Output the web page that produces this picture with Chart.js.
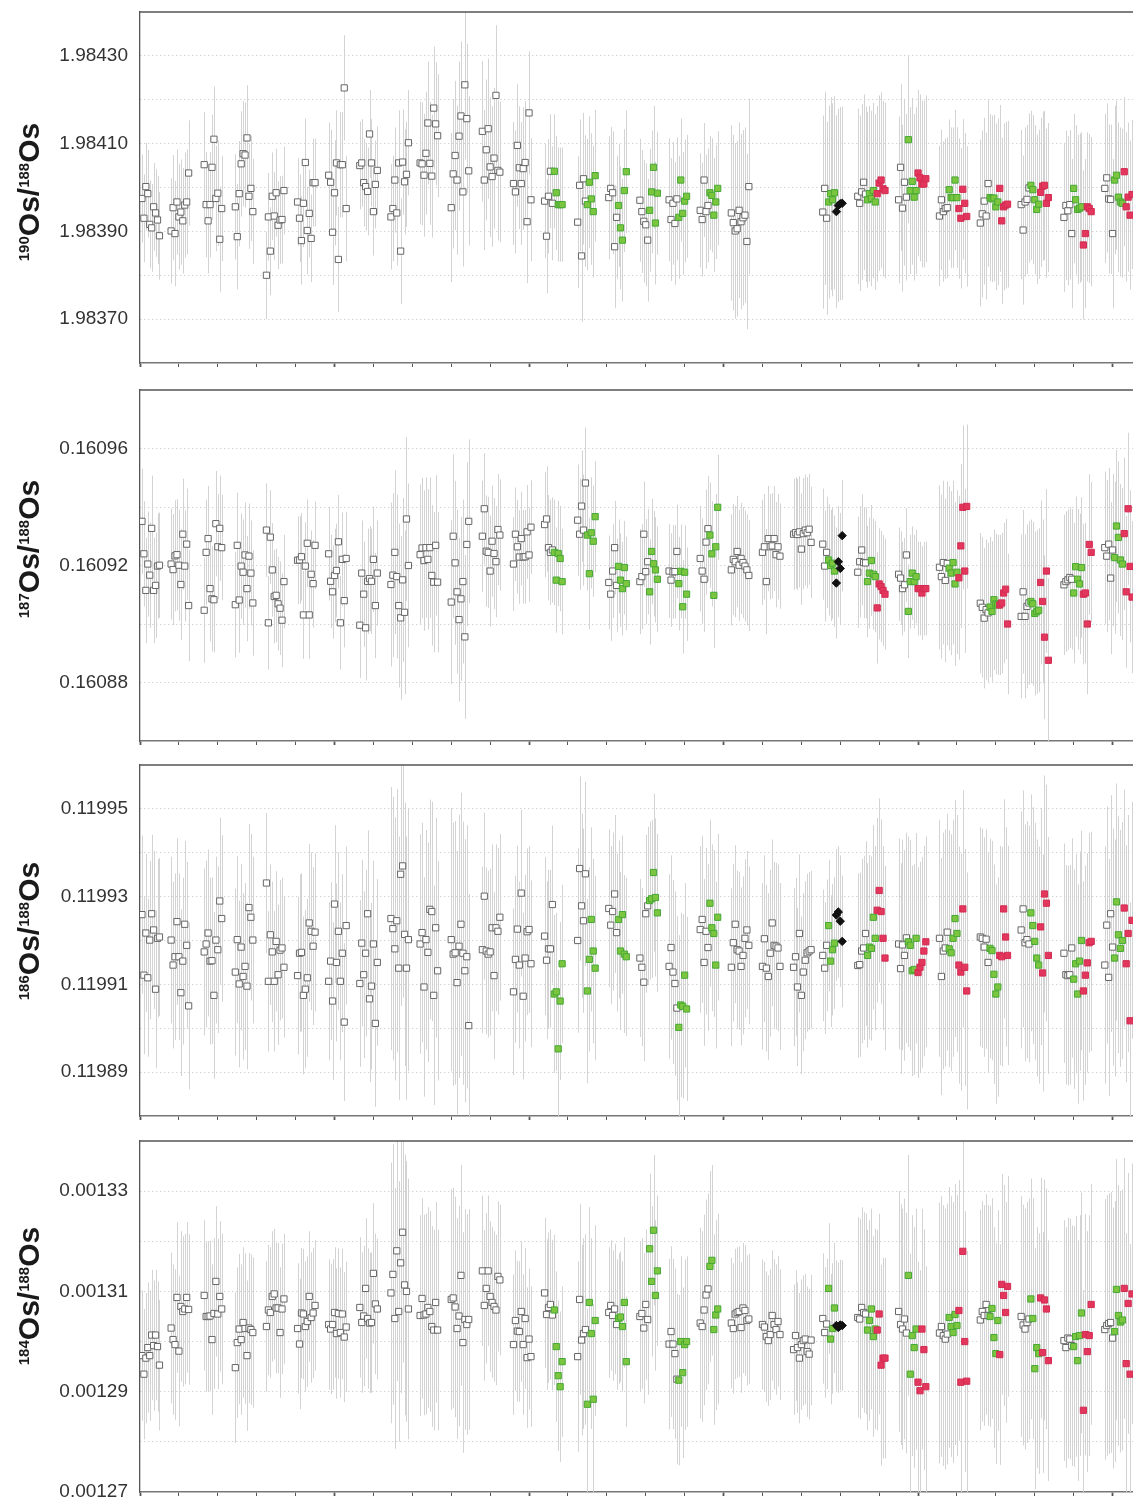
<!DOCTYPE html>
<html>
<head>
<meta charset="utf-8">
<script src="https://cdn.jsdelivr.net/npm/chart.js@4.4.0/dist/chart.umd.min.js"></script>
<style>
  body { margin: 0; background: #fff; font-family: "Liberation Sans", Arial, sans-serif; }
  #page { position: relative; width: 1133px; height: 1498px; overflow: hidden; }
  .panel { position: absolute; left: 0; width: 1133px; height: 376px; }
  .ytitle { position: absolute; left: 29px; font-weight: bold; font-size: 30px; line-height: 34px;
            color: #1a1a1a; white-space: nowrap; transform: translate(-50%, -50%) rotate(-90deg); }
  .ytitle sup { font-size: 15px; vertical-align: 10px; line-height: 0; }
</style>
</head>
<body>
<div id="page">
  <canvas id="c190" class="panel" width="1133" height="376" style="top:0px"></canvas>
  <canvas id="c187" class="panel" width="1133" height="376" style="top:378px"></canvas>
  <canvas id="c186" class="panel" width="1133" height="376" style="top:753px"></canvas>
  <canvas id="c184" class="panel" width="1133" height="376" style="top:1129px"></canvas>
  <div class="ytitle" style="top:192px"><sup>190</sup>Os/<sup>188</sup>Os</div>
  <div class="ytitle" style="top:549px"><sup>187</sup>Os/<sup>188</sup>Os</div>
  <div class="ytitle" style="top:931px"><sup>186</sup>Os/<sup>188</sup>Os</div>
  <div class="ytitle" style="top:1296px"><sup>184</sup>Os/<sup>188</sup>Os</div>
</div>
<script>
// run number of the first analysis of each session; analyses follow one per run
const sessionStart = [1,16,33,49,65,81,97,113,129,144,160,176,192,208,225,241,257,272,288,304,320,336,351,369,390,411,432,453,475,496];
// w = standard (open), g = green, r = red, b = black diamond
const sessionKinds = [
  "wwwwwwwwww","wwwwwwwwww","wwwwwwwwww","wwwwwwwwww","wwwwwwwwww","wwwwwwwwww","wwwwwwwwww",
  "wwwwwwwwww","wwwwwwwwww","wwwwwwwwww","wwwwwwwwww","wwwwwwwwww","wwwwwwwwww",
  "wwwwwggggg","wwwwwggggg","wwwwwggggg","wwwwwggggg","wwwwwggggg","wwwwwggggg",
  "wwwwwwwwww","wwwwwwwwww","wwwwwwwwww",
  "wwwggggbbbb",
  "wwwwwgggggrrrrr","wwwwwgggggrrrrr","wwwwwgggggrrrrr","wwwwwgggggrrrrr",
  "wwwwwgggggrrrrr","wwwwwgggggrrrrr","wwwwwgggggrrrrr"
];
const runTicks = [0,20,40,60,80,100,120,140,160,180,200,220,240,260,280,300,320,340,360,380,400,420,440,460,480,500];

const os190 = [
  [1.983975,1.983930,1.984002,1.983986,1.983916,1.983908,1.983956,1.983942,1.983926,1.983890],
  [1.983901,1.983954,1.983895,1.983967,1.983933,1.983944,1.983924,1.983960,1.983967,1.984033],
  [1.984052,1.983961,1.983924,1.983961,1.984046,1.984110,1.983975,1.983987,1.983882,1.983952],
  [1.983956,1.983888,1.983986,1.984054,1.984077,1.984074,1.984113,1.983980,1.983998,1.983945],
  [1.983800,1.983933,1.983855,1.983980,1.983935,1.983988,1.983914,1.983926,1.983927,1.983993],
  [1.983967,1.983930,1.983879,1.983964,1.984057,1.983902,1.983941,1.983884,1.984011,1.984011],
  [1.984028,1.984012,1.983898,1.983988,1.984056,1.983836,1.984052,1.984052,1.984227,1.983952],
  [1.984050,1.984056,1.984011,1.984002,1.983991,1.984122,1.984056,1.983945,1.984007,1.984039],
  [1.983933,1.983952,1.984017,1.983942,1.984056,1.983855,1.984058,1.984013,1.984030,1.984102],
  [1.984056,1.984054,1.984028,1.984078,1.984147,1.984055,1.984026,1.984181,1.984145,1.984118],
  [1.983954,1.984031,1.984073,1.984017,1.984117,1.984163,1.983990,1.984234,1.984157,1.984038],
  [1.984128,1.984017,1.984086,1.984134,1.984047,1.984025,1.984067,1.984210,1.984039,1.984035],
  [1.984009,1.983990,1.984096,1.984045,1.984009,1.984043,1.984057,1.983922,1.984170,1.983972],
  [1.983969,1.983889,1.983980,1.984037,1.983964,1.984037,1.983988,1.983961,1.983961,1.983961],
  [1.983921,1.984005,1.983844,1.984020,1.983969,1.983961,1.984012,1.983974,1.983945,1.984027],
  [1.983977,1.983998,1.983988,1.983865,1.983932,1.983959,1.983908,1.983880,1.983993,1.984036],
  [1.983971,1.983945,1.983923,1.983915,1.983880,1.983948,1.983990,1.984046,1.983919,1.983987],
  [1.983972,1.983927,1.983964,1.983918,1.983974,1.983932,1.984017,1.983941,1.983969,1.983980],
  [1.983948,1.983927,1.984017,1.983945,1.983959,1.983988,1.983982,1.983937,1.983967,1.983998],
  [1.983942,1.983920,1.983901,1.983906,1.983948,1.983922,1.983931,1.983937,1.983877,1.984002],
  null,
  null,
  [1.983944,1.983998,1.983930,1.983967,1.983986,1.983972,1.983988,1.983945,1.983959,1.983963,1.983964],
  [1.983980,1.983964,1.983990,1.984012,1.983985,1.983972,1.983986,1.983975,1.983993,1.983967,1.983986,1.984010,1.984017,1.983997,1.983993],
  [1.983972,1.984046,1.983953,1.984012,1.983978,1.984109,1.983993,1.984014,1.983978,1.983993,1.984033,1.984022,1.984008,1.984008,1.984020],
  [1.983935,1.983972,1.983945,1.983952,1.983954,1.983995,1.983977,1.983977,1.984017,1.983977,1.983952,1.983930,1.983996,1.983964,1.983934],
  [1.983919,1.983940,1.983969,1.983935,1.984009,1.983977,1.983974,1.983976,1.983956,1.983967,1.983998,1.983924,1.983956,1.983960,1.983962],
  [1.983961,1.983903,1.983967,1.983973,1.983999,1.984005,1.983995,1.983972,1.983950,1.983962,1.983989,1.984003,1.984005,1.983964,1.983977],
  [1.983932,1.983959,1.983947,1.983961,1.983895,1.983998,1.983972,1.983950,1.983953,1.983956,1.983869,1.983895,1.983956,1.983952,1.983945],
  [1.983998,1.984022,1.983974,1.983973,1.983895,1.984017,1.984028,1.983978,1.983967,1.983964,1.984036,1.983956,1.983978,1.983937,1.983984]
];
const err190 = [10e-5,12e-5,12e-5,12e-5,10e-5,10e-5,12e-5,10e-5,12e-5,14e-5,17e-5,16e-5,14e-5,13e-5,15e-5,14e-5,14e-5,14e-5,13e-5,20e-5,
  null,null,22e-5,20e-5,19e-5,16e-5,19e-5,17e-5,17e-5,17e-5];

const os187 = [
  [0.1609351,0.1609240,0.1609115,0.1609205,0.1609167,0.1609327,0.1609115,0.1609132,0.1609198,0.1609201],
  [0.1609205,0.1609186,0.1609233,0.1609237,0.1609201,0.1609135,0.1609307,0.1609198,0.1609273,0.1609063],
  [0.1609047,0.1609245,0.1609292,0.1609121,0.1609086,0.1609083,0.1609343,0.1609264,0.1609327,0.1609261],
  [0.1609066,0.1609269,0.1609082,0.1609198,0.1609177,0.1609236,0.1609121,0.1609232,0.1609174,0.1609072],
  [0.1609321,0.1609004,0.1609297,0.1609185,0.1609094,0.1609098,0.1609069,0.1609054,0.1609013,0.1609145],
  [0.1609218,0.1609219,0.1609230,0.1609031,0.1609198,0.1609276,0.1609031,0.1609170,0.1609138,0.1609269],
  [0.1609240,0.1609146,0.1609110,0.1609166,0.1609183,0.1609281,0.1609004,0.1609221,0.1609080,0.1609224],
  [0.1608996,0.1609174,0.1609102,0.1608987,0.1609146,0.1609155,0.1609146,0.1609221,0.1609063,0.1609174],
  [0.1609135,0.1609167,0.1609245,0.1609162,0.1609063,0.1609021,0.1609151,0.1609040,0.1609359,0.1609200],
  [0.1609237,0.1609260,0.1609217,0.1609261,0.1609221,0.1609261,0.1609166,0.1609143,0.1609269,0.1609143],
  [0.1609075,0.1609300,0.1609209,0.1609110,0.1609015,0.1609086,0.1609145,0.1608956,0.1609272,0.1609351],
  [0.1609300,0.1609394,0.1609249,0.1609245,0.1609181,0.1609283,0.1609241,0.1609213,0.1609323,0.1609304],
  [0.1609205,0.1609307,0.1609264,0.1609229,0.1609292,0.1609229,0.1609230,0.1609315,0.1609236,0.1609331],
  [0.1609340,0.1609359,0.1609261,0.1609245,0.1609253,0.1609245,0.1609150,0.1609241,0.1609224,0.1609145],
  [0.1609355,0.1609307,0.1609403,0.1609321,0.1609482,0.1609304,0.1609172,0.1609312,0.1609283,0.1609367],
  [0.1609142,0.1609102,0.1609181,0.1609261,0.1609132,0.1609197,0.1609150,0.1609121,0.1609193,0.1609138],
  [0.1609145,0.1609162,0.1609307,0.1609179,0.1609213,0.1609110,0.1609248,0.1609206,0.1609185,0.1609153],
  [0.1609181,0.1609150,0.1609178,0.1609179,0.1609248,0.1609138,0.1609180,0.1609059,0.1609177,0.1609102],
  [0.1609224,0.1609181,0.1609153,0.1609280,0.1609326,0.1609304,0.1609240,0.1609098,0.1609264,0.1609399],
  [0.1609185,0.1609221,0.1609213,0.1609248,0.1609201,0.1609224,0.1609210,0.1609198,0.1609185,0.1609166],
  [0.1609245,0.1609264,0.1609145,0.1609292,0.1609264,0.1609267,0.1609292,0.1609237,0.1609264,0.1609232],
  [0.1609307,0.1609312,0.1609306,0.1609315,0.1609256,0.1609309,0.1609321,0.1609312,0.1609324,0.1609279],
  [0.1609273,0.1609198,0.1609245,0.1609219,0.1609200,0.1609208,0.1609181,0.1609140,0.1609213,0.1609190,0.1609302],
  [0.1609177,0.1609213,0.1609253,0.1609210,0.1609209,0.1609145,0.1609174,0.1609217,0.1609170,0.1609162,0.1609055,0.1609137,0.1609128,0.1609115,0.1609102],
  [0.1609170,0.1609157,0.1609121,0.1609134,0.1609236,0.1609043,0.1609145,0.1609174,0.1609145,0.1609162,0.1609121,0.1609121,0.1609106,0.1609121,0.1609121],
  [0.1609194,0.1609162,0.1609210,0.1609149,0.1609207,0.1609191,0.1609174,0.1609210,0.1609137,0.1609177,0.1609158,0.1609267,0.1609399,0.1609181,0.1609402],
  [0.1609071,0.1609057,0.1609020,0.1609049,0.1609038,0.1609058,0.1609043,0.1609083,0.1609069,0.1609065,0.1609065,0.1609072,0.1609106,0.1609119,0.1609000],
  [0.1609026,0.1609110,0.1609026,0.1609060,0.1609072,0.1609077,0.1609069,0.1609036,0.1609042,0.1609047,0.1609142,0.1609077,0.1608955,0.1609181,0.1608876],
  [0.1609134,0.1609145,0.1609151,0.1609159,0.1609153,0.1609106,0.1609196,0.1609153,0.1609137,0.1609193,0.1609102,0.1609106,0.1609000,0.1609272,0.1609245],
  [0.1609261,0.1609232,0.1609273,0.1609157,0.1609253,0.1609227,0.1609335,0.1609296,0.1609219,0.1609205,0.1609309,0.1609110,0.1609394,0.1609197,0.1609092]
];
const err187 = [18e-6,19e-6,18e-6,18e-6,16e-6,15e-6,16e-6,18e-6,28e-6,24e-6,28e-6,19e-6,16e-6,18e-6,19e-6,16e-6,18e-6,16e-6,18e-6,19e-6,
  18e-6,19e-6,19e-6,19e-6,16e-6,28e-6,24e-6,28e-6,24e-6,26e-6];

const os186 = [
  [0.1199259,0.1199121,0.1199217,0.1199115,0.1199201,0.1199261,0.1199224,0.1199089,0.1199205,0.1199208],
  [0.1199201,0.1199144,0.1199163,0.1199243,0.1199163,0.1199081,0.1199153,0.1199237,0.1199189,0.1199051],
  [0.1199174,0.1199192,0.1199217,0.1199153,0.1199154,0.1199075,0.1199201,0.1199179,0.1199290,0.1199250],
  [0.1199128,0.1199202,0.1199101,0.1199185,0.1199118,0.1199141,0.1199096,0.1199275,0.1199253,0.1199201],
  [0.1199331,0.1199107,0.1199213,0.1199174,0.1199107,0.1199198,0.1199122,0.1199178,0.1199183,0.1199139],
  [0.1199120,0.1199171,0.1199173,0.1199075,0.1199089,0.1199115,0.1199240,0.1199221,0.1199187,0.1199219],
  [0.1199107,0.1199153,0.1199062,0.1199283,0.1199150,0.1199221,0.1199107,0.1199171,0.1199014,0.1199234],
  [0.1199102,0.1199194,0.1199122,0.1199171,0.1199261,0.1199067,0.1199096,0.1199192,0.1199011,0.1199150],
  [0.1199250,0.1199227,0.1199181,0.1199245,0.1199137,0.1199351,0.1199370,0.1199214,0.1199137,0.1199202],
  [0.1199192,0.1199218,0.1199094,0.1199202,0.1199173,0.1199271,0.1199266,0.1199075,0.1199229,0.1199131],
  [0.1199202,0.1199169,0.1199172,0.1199104,0.1199187,0.1199237,0.1199171,0.1199131,0.1199163,0.1199006],
  [0.1199179,0.1199301,0.1199176,0.1199169,0.1199174,0.1199229,0.1199120,0.1199229,0.1199221,0.1199253],
  [0.1199083,0.1199157,0.1199226,0.1199144,0.1199308,0.1199073,0.1199160,0.1199220,0.1199225,0.1199147],
  [0.1199210,0.1199155,0.1199181,0.1199181,0.1199282,0.1199078,0.1199083,0.1198953,0.1199062,0.1199147],
  [0.1199200,0.1199364,0.1199279,0.1199245,0.1199352,0.1199085,0.1199157,0.1199248,0.1199176,0.1199137],
  [0.1199273,0.1199235,0.1199266,0.1199306,0.1199218,0.1199248,0.1199176,0.1199259,0.1199169,0.1199163],
  [0.1199160,0.1199139,0.1199105,0.1199261,0.1199279,0.1199291,0.1199295,0.1199355,0.1199298,0.1199263],
  [0.1199141,0.1199184,0.1199128,0.1199102,0.1199046,0.1199002,0.1199053,0.1199050,0.1199121,0.1199044],
  [0.1199225,0.1199248,0.1199150,0.1199221,0.1199184,0.1199285,0.1199229,0.1199216,0.1199144,0.1199253],
  [0.1199139,0.1199195,0.1199237,0.1199179,0.1199176,0.1199141,0.1199166,0.1199205,0.1199224,0.1199189],
  [0.1199141,0.1199204,0.1199137,0.1199118,0.1199171,0.1199240,0.1199189,0.1199187,0.1199183,0.1199141],
  [0.1199139,0.1199163,0.1199094,0.1199216,0.1199075,0.1199128,0.1199155,0.1199172,0.1199176,0.1199179],
  [0.1199166,0.1199137,0.1199189,0.1199234,0.1199153,0.1199179,0.1199194,0.1199258,0.1199265,0.1199244,0.1199198],
  [0.1199143,0.1199145,0.1199176,0.1199183,0.1199216,0.1199166,0.1199185,0.1199182,0.1199253,0.1199205,0.1199269,0.1199314,0.1199266,0.1199205,0.1199160],
  [0.1199192,0.1199136,0.1199190,0.1199166,0.1199206,0.1199197,0.1199189,0.1199131,0.1199134,0.1199205,0.1199127,0.1199139,0.1199150,0.1199176,0.1199197],
  [0.1199205,0.1199118,0.1199176,0.1199183,0.1199219,0.1199181,0.1199172,0.1199205,0.1199250,0.1199216,0.1199144,0.1199128,0.1199272,0.1199139,0.1199085],
  [0.1199208,0.1199205,0.1199185,0.1199203,0.1199150,0.1199182,0.1199177,0.1199123,0.1199078,0.1199094,0.1199166,0.1199163,0.1199272,0.1199208,0.1199166],
  [0.1199224,0.1199272,0.1199195,0.1199202,0.1199192,0.1199263,0.1199234,0.1199198,0.1199160,0.1199144,0.1199231,0.1199126,0.1199306,0.1199285,0.1199166],
  [0.1199171,0.1199122,0.1199120,0.1199122,0.1199183,0.1199112,0.1199147,0.1199078,0.1199153,0.1199200,0.1199085,0.1199121,0.1199149,0.1199195,0.1199198],
  [0.1199144,0.1199235,0.1199116,0.1199261,0.1199185,0.1199160,0.1199288,0.1199213,0.1199182,0.1199200,0.1199274,0.1199147,0.1199216,0.1199017,0.1199246]
];
const err186 = [18e-6,19e-6,19e-6,19e-6,16e-6,18e-6,18e-6,19e-6,30e-6,25e-6,30e-6,19e-6,19e-6,18e-6,21e-6,18e-6,18e-6,21e-6,19e-6,18e-6,
  19e-6,18e-6,15e-6,21e-6,24e-6,27e-6,25e-6,27e-6,25e-6,27e-6];

const os184 = [
  [0.0012972,0.0012935,0.0012967,0.0012988,0.0012972,0.0013013,0.0012992,0.0013013,0.0012990,0.0012953],
  [0.0013027,0.0013004,0.0012994,0.0013088,0.0012981,0.0013070,0.0013060,0.0013065,0.0013088,0.0013064],
  [0.0013092,0.0013050,0.0013050,0.0013051,0.0013004,0.0013056,0.0013120,0.0013055,0.0013090,0.0013065],
  [0.0012948,0.0012998,0.0013025,0.0013004,0.0013038,0.0013026,0.0012972,0.0013027,0.0013024,0.0013018],
  [0.0013030,0.0013063,0.0013058,0.0013090,0.0013095,0.0013067,0.0013067,0.0013018,0.0013065,0.0013085],
  [0.0013026,0.0012995,0.0013057,0.0013055,0.0013030,0.0013040,0.0013090,0.0013048,0.0013057,0.0013072],
  [0.0013034,0.0013025,0.0013034,0.0013058,0.0013016,0.0013056,0.0013018,0.0013055,0.0013009,0.0013029],
  [0.0013068,0.0013038,0.0013051,0.0013106,0.0013046,0.0013037,0.0013038,0.0013136,0.0013075,0.0013065],
  [0.0013097,0.0013134,0.0013046,0.0013181,0.0013060,0.0013157,0.0013218,0.0013113,0.0013100,0.0013065],
  [0.0013052,0.0013086,0.0013053,0.0013055,0.0013068,0.0013060,0.0013030,0.0013023,0.0013078,0.0013023],
  [0.0013084,0.0013087,0.0013069,0.0013026,0.0013051,0.0013132,0.0012998,0.0013044,0.0013034,0.0013044],
  [0.0013141,0.0013072,0.0013106,0.0013141,0.0013090,0.0013078,0.0013070,0.0013063,0.0013130,0.0013123],
  [0.0012994,0.0013042,0.0013021,0.0013020,0.0013060,0.0012994,0.0013046,0.0012968,0.0013005,0.0012970],
  [0.0013097,0.0013054,0.0013068,0.0013074,0.0013053,0.0013063,0.0012990,0.0012932,0.0012910,0.0012960],
  [0.0012970,0.0013084,0.0013003,0.0013016,0.0013024,0.0012875,0.0013078,0.0013016,0.0012885,0.0013042],
  [0.0013058,0.0013072,0.0013052,0.0013065,0.0013034,0.0013046,0.0013049,0.0013030,0.0013078,0.0012960],
  [0.0013050,0.0013056,0.0013027,0.0013074,0.0013044,0.0013185,0.0013120,0.0013222,0.0013092,0.0013141],
  [0.0012995,0.0013020,0.0012995,0.0012976,0.0012925,0.0012923,0.0013000,0.0012938,0.0012994,0.0013000],
  [0.0013037,0.0013030,0.0013063,0.0013093,0.0013105,0.0013150,0.0013162,0.0013024,0.0013053,0.0013065],
  [0.0013037,0.0013026,0.0013055,0.0013058,0.0013060,0.0013028,0.0013067,0.0013062,0.0013042,0.0013045],
  [0.0013034,0.0013029,0.0013010,0.0013002,0.0013014,0.0013052,0.0013034,0.0013024,0.0013040,0.0013014],
  [0.0012984,0.0013012,0.0012988,0.0012967,0.0012994,0.0013002,0.0013005,0.0012980,0.0012975,0.0013003],
  [0.0013046,0.0013018,0.0013035,0.0013106,0.0013005,0.0013026,0.0013067,0.0013032,0.0013028,0.0013033,0.0013032],
  [0.0013048,0.0013045,0.0013068,0.0013058,0.0013055,0.0013023,0.0013042,0.0013065,0.0013010,0.0013025,0.0013023,0.0013055,0.0012953,0.0012967,0.0012967],
  [0.0013060,0.0013034,0.0013025,0.0013045,0.0013017,0.0013132,0.0012935,0.0013012,0.0012988,0.0013025,0.0012919,0.0012902,0.0013025,0.0012984,0.0012910],
  [0.0013017,0.0013030,0.0013012,0.0013005,0.0013015,0.0013048,0.0013030,0.0013018,0.0013054,0.0013032,0.0013062,0.0012919,0.0013180,0.0013000,0.0012921],
  [0.0013043,0.0013060,0.0013052,0.0013074,0.0013052,0.0013050,0.0013066,0.0013008,0.0012976,0.0013042,0.0012974,0.0013114,0.0013092,0.0013058,0.0013110],
  [0.0013050,0.0013033,0.0013025,0.0013038,0.0013045,0.0013085,0.0013046,0.0012946,0.0012988,0.0012976,0.0013087,0.0012978,0.0013083,0.0013065,0.0012962],
  [0.0013002,0.0012988,0.0013007,0.0013005,0.0012992,0.0012990,0.0013010,0.0012962,0.0013012,0.0013057,0.0012863,0.0013014,0.0012980,0.0013012,0.0013074],
  [0.0013024,0.0013032,0.0013036,0.0013038,0.0013007,0.0013020,0.0013104,0.0013052,0.0013039,0.0013043,0.0013106,0.0012956,0.0013076,0.0012935,0.0013095]
];
const err184 = [13e-6,15e-6,15e-6,15e-6,13e-6,13e-6,13e-6,14e-6,26e-6,20e-6,22e-6,15e-6,14e-6,15e-6,19e-6,13e-6,15e-6,17e-6,19e-6,13e-6,
  13e-6,13e-6,13e-6,20e-6,24e-6,26e-6,22e-6,24e-6,24e-6,26e-6];

// y gridlines and labelled ticks for each panel
const grid190 = [1.9836,1.9837,1.9838,1.9839,1.9840,1.9841,1.9842,1.9843,1.9844];
const labels190 = [1.9837,1.9839,1.9841,1.9843];
const grid187 = [0.16086,0.16088,0.16090,0.16092,0.16094,0.16096,0.16098];
const labels187 = [0.16088,0.16092,0.16096];
const grid186 = [0.11988,0.11989,0.11990,0.11991,0.11992,0.11993,0.11994,0.11995,0.11996];
const labels186 = [0.11989,0.11991,0.11993,0.11995];
const grid184 = [0.00127,0.00128,0.00129,0.00130,0.00131,0.00132,0.00133,0.00134];
const labels184 = [0.00127,0.00129,0.00131,0.00133];

Chart.defaults.font.family = '"Liberation Sans", Arial, sans-serif';

const styles = {
  w: {pointStyle: 'rect', pointRadius: 4.4, backgroundColor: '#ffffff', borderColor: '#666666', order: 4},
  g: {pointStyle: 'rect', pointRadius: 4.4, backgroundColor: '#7cc63f', borderColor: '#45a834', order: 3},
  r: {pointStyle: 'rect', pointRadius: 4.4, backgroundColor: '#e3365d', borderColor: '#d42b52', order: 2},
  b: {pointStyle: 'rectRot', pointRadius: 4.2, backgroundColor: '#111111', borderColor: '#111111', order: 1}
};

const errorBars = {
  id: 'errorBars',
  beforeDatasetsDraw(chart) {
    const {ctx, chartArea, scales} = chart;
    ctx.save();
    ctx.beginPath();
    ctx.rect(chartArea.left, chartArea.top, chartArea.width, chartArea.height);
    ctx.clip();
    ctx.strokeStyle = '#d3d3d3';
    ctx.lineWidth = 1;
    chart.data.datasets.forEach((ds, i) => {
      chart.getDatasetMeta(i).data.forEach((pt, j) => {
        const d = ds.data[j];
        const x = Math.round(pt.x) + 0.5;
        ctx.beginPath();
        ctx.moveTo(x, scales.y.getPixelForValue(d.y + d.e));
        ctx.lineTo(x, scales.y.getPixelForValue(d.y - d.e));
        ctx.stroke();
      });
    });
    ctx.restore();
  }
};

const topFrame = {
  id: 'topFrame',
  afterDraw(chart) {
    const {ctx, chartArea} = chart;
    ctx.save();
    ctx.strokeStyle = '#555';
    ctx.lineWidth = 1.3;
    ctx.beginPath();
    ctx.moveTo(chartArea.left, chartArea.top);
    ctx.lineTo(chartArea.right, chartArea.top);
    ctx.stroke();
    ctx.restore();
  }
};

function makePanel(id, values, errs, grid, labels) {
  const sets = {w: [], g: [], r: [], b: []};
  sessionStart.forEach((start, s) => {
    if (!values[s]) return;
    sessionKinds[s].split('').forEach((k, j) => {
      sets[k].push({x: start + j, y: values[s][j], e: errs[s]});
    });
  });
  const ymin = grid[0], ymax = grid[grid.length - 1];
  new Chart(document.getElementById(id), {
    type: 'scatter',
    data: {
      datasets: ['w', 'g', 'r', 'b'].map(k => Object.assign({data: sets[k], borderWidth: 1}, styles[k]))
    },
    options: {
      responsive: false,
      animation: false,
      layout: {padding: {top: 12, left: 0, right: 0, bottom: 0}, autoPadding: false},
      plugins: {legend: {display: false}, tooltip: {enabled: false}},
      scales: {
        x: {
          type: 'linear', min: 0, max: 510.5,
          afterBuildTicks: s => { s.ticks = runTicks.map(v => ({value: v})); },
          afterFit: s => { s.height = 13; s.paddingLeft = 0; s.paddingRight = 0; },
          ticks: {display: false},
          grid: {drawOnChartArea: false, drawTicks: true, tickLength: 4, tickColor: '#555',
                 tickWidth: c => (c.tick && c.tick.value % 100 === 0) ? 1.8 : 1},
          border: {color: '#777', width: 1.6}
        },
        y: {
          min: ymin, max: ymax,
          afterBuildTicks: s => { s.ticks = grid.map(v => ({value: v})); },
          afterFit: s => { s.width = 140; s.paddingTop = 0; s.paddingBottom = 0; },
          ticks: {
            callback: v => labels.includes(v) ? v.toFixed(5) : '',
            font: {size: 19}, color: '#333', padding: 12
          },
          grid: {
            drawTicks: false,
            color: c => (c.tick && (c.tick.value === ymin || c.tick.value === ymax)) ? 'rgba(0,0,0,0)' : '#c2c2c2'
          },
          border: {color: '#555', width: 1.3, dash: [1, 3]}
        }
      }
    },
    plugins: [errorBars, topFrame]
  });
}

makePanel('c190', os190, err190, grid190, labels190);
makePanel('c187', os187, err187, grid187, labels187);
makePanel('c186', os186, err186, grid186, labels186);
makePanel('c184', os184, err184, grid184, labels184);
</script>
</body>
</html>
